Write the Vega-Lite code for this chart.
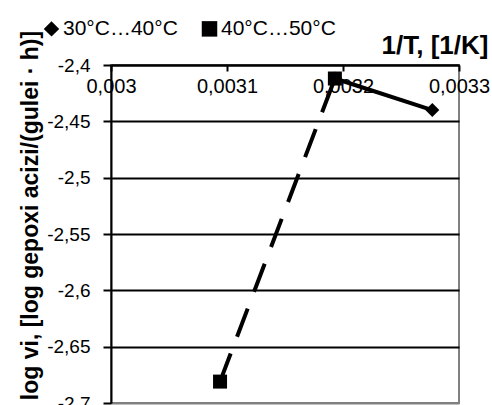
{
  "$schema": "https://vega.github.io/schema/vega-lite/v6.json",
  "autosize": "none",
  "width": 348,
  "height": 338,
  "padding": {"left": 111, "top": 65, "right": 33, "bottom": 2},
  "background": "white",
  "config": {
    "font": "Liberation Sans",
    "view": {"stroke": "#808080", "strokeWidth": 2}
  },
  "data": {
    "values": [
      {"series": "30°C…40°C", "x": 0.003193, "y": -2.412},
      {"series": "30°C…40°C", "x": 0.003277, "y": -2.44},
      {"series": "40°C…50°C", "x": 0.003094, "y": -2.681},
      {"series": "40°C…50°C", "x": 0.003193, "y": -2.412}
    ]
  },
  "encoding": {
    "x": {
      "field": "x",
      "type": "quantitative",
      "scale": {"domain": [0.003, 0.0033], "nice": false, "zero": false},
      "axis": {
        "orient": "top",
        "title": "1/T, [1/K]",
        "titleFont": "Liberation Sans",
        "titleFontSize": 26,
        "titleFontWeight": "bold",
        "titleColor": "black",
        "titleAnchor": null,
        "titleX": 377,
        "titleY": -12,
        "titleAlign": "right",
        "titleBaseline": "alphabetic",
        "values": [0.003, 0.0031, 0.0032, 0.0033],
        "labelExpr": "replace(datum.value + '', '.', ',')",
        "labelFontSize": 20,
        "labelColor": "black",
        "labelBaseline": "middle",
        "labelPadding": -15,
        "labelFlush": false,
        "labelOverlap": false,
        "tickSize": -6,
        "tickColor": "black",
        "tickWidth": 2,
        "domainColor": "black",
        "domainWidth": 2,
        "grid": false
      }
    },
    "y": {
      "field": "y",
      "type": "quantitative",
      "scale": {"domain": [-2.7, -2.4], "nice": false, "zero": false},
      "axis": {
        "title": "log vi, [log gepoxi acizi/(gulei · h)]",
        "titleFont": "Liberation Sans",
        "titleFontSize": 23,
        "titleFontWeight": "bold",
        "titleColor": "black",
        "titleAnchor": null,
        "titleX": -81,
        "titleY": 150,
        "titleAlign": "center",
        "titleBaseline": "middle",
        "titleAngle": -90,
        "values": [-2.7, -2.65, -2.6, -2.55, -2.5, -2.45, -2.4],
        "labelExpr": "replace(datum.value + '', '.', ',')",
        "labelFontSize": 19,
        "labelColor": "black",
        "labelPadding": 13,
        "labelFlush": false,
        "labelOverlap": false,
        "tickSize": 8,
        "tickColor": "black",
        "tickWidth": 2,
        "domainColor": "black",
        "domainWidth": 2,
        "grid": true,
        "gridColor": {"condition": {"test": "datum.value <= -2.7", "value": "#808080"}, "value": "black"},
        "gridWidth": 2,
        "gridOpacity": 1
      }
    }
  },
  "layer": [
    {
      "transform": [{"filter": "datum.series == '30°C…40°C'"}],
      "mark": {"type": "line", "color": "black", "strokeWidth": 4, "strokeCap": "butt"},
      "encoding": {}
    },
    {
      "transform": [{"filter": "datum.series == '40°C…50°C'"}],
      "mark": {"type": "line", "color": "black", "strokeWidth": 4, "strokeCap": "butt", "strokeDash": [30, 18]},
      "encoding": {}
    },
    {
      "mark": {"type": "point", "filled": true, "color": "black", "size": 196, "opacity": 1},
      "encoding": {
        "shape": {
          "field": "series",
          "type": "nominal",
          "scale": {"domain": ["30°C…40°C", "40°C…50°C"], "range": ["diamond", "square"]},
          "legend": {
            "title": null,
            "orient": "none",
            "direction": "horizontal",
            "legendX": -70,
            "legendY": -47,
            "labelFontSize": 21,
            "labelColor": "black",
            "labelFont": "Liberation Sans",
            "symbolFillColor": "black",
            "symbolStrokeColor": "black",
            "symbolSize": 240,
            "symbolOffset": 0,
            "labelOffset": 1,
            "columnPadding": 20
          }
        }
      }
    }
  ]
}
